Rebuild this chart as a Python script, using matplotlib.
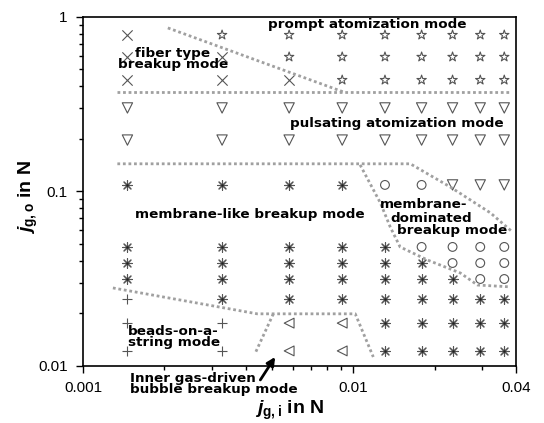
import matplotlib
matplotlib.use('Agg')
import matplotlib.pyplot as plt
import numpy as np

plt.rcParams['mathtext.fontset'] = 'custom'
plt.rcParams['mathtext.it'] = 'Liberation Sans:italic:bold'
plt.rcParams['mathtext.rm'] = 'Liberation Sans:bold'
plt.rcParams['mathtext.bf'] = 'Liberation Sans:bold'

# measured grid of operating points
jgi = [0.00146, 0.00327, 0.00579, 0.0091, 0.0131, 0.0179, 0.0233, 0.0295, 0.0362]
jgo = [0.788, 0.59, 0.435, 0.301, 0.197, 0.109, 0.0481, 0.0389, 0.0315, 0.0242, 0.0176, 0.0122]

# mode code per row (one letter per jgi column)
# x fiber, s star (prompt), v pulsating, a asterisk (membrane-like),
# o membrane-dominated, p beads, l bubble
modes = [
    'xssssssss',
    'xxsssssss',
    'xxxssssss',
    'vvvvvvvvv',
    'vvvvvvvvv',
    'aaaaoovvv',
    'aaaaaoooo',
    'aaaaaaooo',
    'aaaaaaaoo',
    'paaaaaaaa',
    'ppllaaaaa',
    'ppllaaaaa',
]

# boundaries (dotted)
b_prompt_x = [0.00206, 0.00918]
b_prompt_y = [0.865, 0.372]
b_puls_x = [0.00134, 0.0381]
b_puls_y = [0.372, 0.372]
b_memb_x = [0.00134, 0.01626, 0.02287, 0.0322, 0.0388]
b_memb_y = [0.144, 0.144, 0.106, 0.0753, 0.0586]
b_dom_x = [0.0106, 0.0126, 0.0137, 0.0149, 0.0188, 0.0249, 0.0288, 0.0381]
b_dom_y = [0.142, 0.0859, 0.0626, 0.0481, 0.0405, 0.0341, 0.0291, 0.0284]
b_beads_x = [0.00129, 0.00441, 0.01017, 0.01186]
b_beads_y = [0.028, 0.0199, 0.0199, 0.01126]
b_bub_x = [0.00506, 0.00434]
b_bub_y = [0.0199, 0.01187]

styles = {
    'x': dict(marker='x', s=55),
    's': dict(marker='*', s=50),
    'v': dict(marker='v', s=55),
    'a': dict(marker=(8, 2, 0), s=50),
    'o': dict(marker='o', s=40),
    'p': dict(marker='+', s=55),
    'l': dict(marker='<', s=50),
}

fig = plt.figure(figsize=(5.44, 4.23), dpi=100)
ax = fig.add_axes([0.1526, 0.1348, 0.7959, 0.8252])

for code, st in styles.items():
    xs, ys = [], []
    for i, row in enumerate(modes):
        for j, c in enumerate(row):
            if c == code:
                xs.append(jgi[j])
                ys.append(jgo[i])
    if code in 'xpa':
        ax.scatter(xs, ys, marker=st['marker'], s=st['s'], color='#555555', linewidths=0.8)
        if code == 'a':
            ax.scatter(xs, ys, marker='o', s=3, color='#222222', linewidths=0)
    else:
        ax.scatter(xs, ys, marker=st['marker'], s=st['s'], facecolors='none',
                   edgecolors='#555555', linewidths=0.8)

dot = dict(color='#a0a0a0', lw=2, ls=(0, (1, 1)))
for bx, by in [(b_prompt_x, b_prompt_y), (b_puls_x, b_puls_y), (b_memb_x, b_memb_y),
               (b_dom_x, b_dom_y), (b_beads_x, b_beads_y), (b_bub_x, b_bub_y)]:
    ax.plot(bx, by, **dot)

ax.set_xscale('log')
ax.set_yscale('log')
ax.set_xlim(0.001, 0.04)
ax.set_ylim(0.01, 1)
ax.set_xticks([0.001, 0.01, 0.04])
ax.set_xticklabels(['0.001', '0.01', '0.04'])
ax.set_yticks([0.01, 0.1, 1])
ax.set_yticklabels(['0.01', '0.1', '1'])
ax.tick_params(which='major', length=5, width=1, labelsize=11, pad=6)
ax.tick_params(which='minor', length=3, width=1)
for lab in ax.get_xticklabels() + ax.get_yticklabels():
    lab.set_fontfamily('Liberation Sans')
for sp in ax.spines.values():
    sp.set_linewidth(1.2)

tf = dict(fontsize=9.7, fontweight='bold', family='DejaVu Sans', color='black')
ax.text(0.01127, 0.90, 'prompt atomization mode', ha='center', va='center', **tf)
ax.text(0.00215, 0.575, 'fiber type\nbreakup mode', ha='center', va='center',
        linespacing=0.8, **tf)
ax.text(0.01443, 0.244, 'pulsating atomization mode', ha='center', va='center', **tf)
ax.text(0.00415, 0.0733, 'membrane-like breakup mode', ha='center', va='center', **tf)
ax.text(0.01259, 0.0840, 'membrane-', ha='left', va='center', **tf)
ax.text(0.01371, 0.0702, 'dominated', ha='left', va='center', **tf)
ax.text(0.01455, 0.0597, 'breakup mode', ha='left', va='center', **tf)
ax.text(0.00147, 0.01466, 'beads-on-a-\nstring mode', ha='left', va='center',
        linespacing=0.8, **tf)
ax.text(0.00149, 0.0079, 'Inner gas-driven\nbubble breakup mode', ha='left', va='center',
        linespacing=0.8, clip_on=False, **tf)
ax.annotate('', xy=(0.00514, 0.01126), xytext=(0.00453, 0.00832),
            annotation_clip=False,
            arrowprops=dict(arrowstyle='-|>', color='black', lw=2, shrinkA=0, shrinkB=0,
                            mutation_scale=12))

ax.set_xlabel(r'$j_{\mathrm{g,i}}$ in N', fontsize=14, fontweight='bold',
              family='Liberation Sans')
ax.set_ylabel(r'$j_{\mathrm{g,o}}$ in N', fontsize=14, fontweight='bold',
              family='Liberation Sans')
ax.xaxis.label.set_va('center')
ax.yaxis.label.set_va('center')
ax.xaxis.set_label_coords(0.478, -0.126)
ax.yaxis.set_label_coords(-0.125, 0.484)

fig.savefig('out.png', dpi=100)
